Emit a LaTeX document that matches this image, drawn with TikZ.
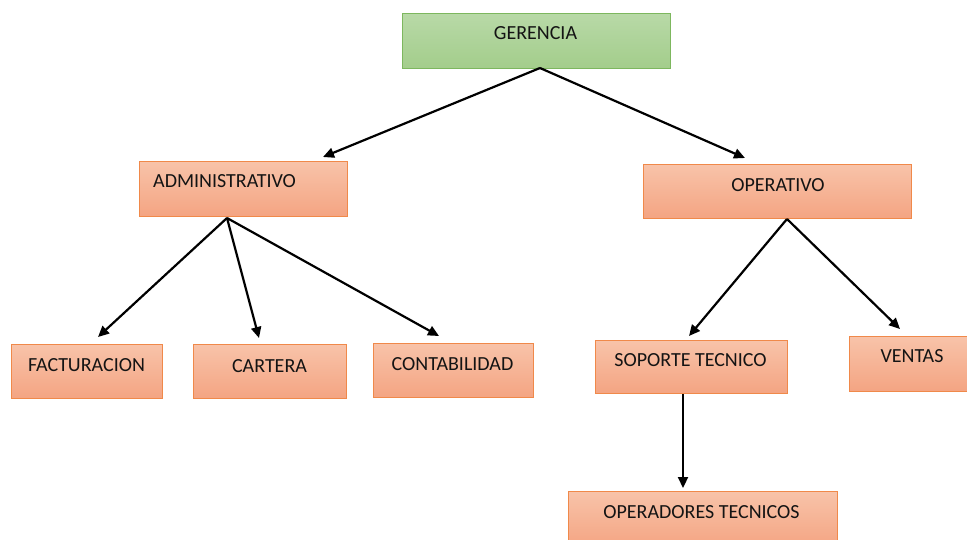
\documentclass[tikz,border=0pt]{standalone}
\usepackage{fontspec}
\setmainfont{Carlito}
\usetikzlibrary{arrows.meta}
\definecolor{oborder}{HTML}{F0894A}
\definecolor{otop}{HTML}{F8C3A9}
\definecolor{obot}{HTML}{F4A482}
\definecolor{gborder}{HTML}{7DB75E}
\definecolor{gtop}{HTML}{B8D9A7}
\definecolor{gbot}{HTML}{A3CD8B}
\definecolor{txt}{HTML}{141414}
\begin{document}
\begin{tikzpicture}[x=1pt,y=-1pt,
  obox/.style={rectangle, draw=oborder, line width=1.3pt, top color=otop, bottom color=obot, anchor=north west, inner sep=0pt},
  gbox/.style={rectangle, draw=gborder, line width=1.3pt, top color=gtop, bottom color=gbot, anchor=north west, inner sep=0pt},
  lbl/.style={font=\fontsize{20}{24}\selectfont, text=txt, inner sep=0pt, anchor=base},
  conn/.style={draw=black, line width=2.2pt, -{Triangle[length=11pt,width=10pt]}}]
\useasboundingbox (0,0) rectangle (967,539);
% boxes
\node[gbox, minimum width=268pt, minimum height=55pt] (ger) at (402,13) {};
\node[obox, minimum width=208pt, minimum height=55pt] (adm) at (139,161) {};
\node[obox, minimum width=268pt, minimum height=54pt] (ope) at (643,164) {};
\node[obox, minimum width=151pt, minimum height=54pt] (fac) at (11,344) {};
\node[obox, minimum width=153pt, minimum height=54pt] (car) at (193,344) {};
\node[obox, minimum width=160pt, minimum height=54pt] (con) at (373,343) {};
\node[obox, minimum width=192pt, minimum height=53pt] (sop) at (595,340) {};
\node[obox, minimum width=126pt, minimum height=55pt] (ven) at (849,336) {};
\node[obox, minimum width=269pt, minimum height=56pt] (opr) at (568,491) {};
% labels
\node[lbl] (tger) at (535.5,39.5) {GERENCIA};
\node[lbl, anchor=base west] (tadm) at (153,187.7) {ADMINISTRATIVO};
\node[lbl] (tope) at (778,191) {OPERATIVO};
\node[lbl] (tfac) at (86.5,371) {FACTURACION};
\node[lbl] (tcar) at (269.5,372) {CARTERA};
\node[lbl] (tcon) at (452.5,370) {CONTABILIDAD};
\node[lbl] (tsop) at (690.5,366) {SOPORTE TECNICO};
\node[lbl] (tven) at (912,362) {VENTAS};
\node[lbl] (topr) at (701.5,518) {OPERADORES TECNICOS};
% connector points
\coordinate (g0) at (540,68);
\coordinate (a1) at (323,157);
\coordinate (o1) at (745,158);
\coordinate (ad0) at (227,218);
\coordinate (f1) at (98,337);
\coordinate (c1) at (259,338);
\coordinate (k1) at (439,336);
\coordinate (op0) at (787,219);
\coordinate (s1) at (689,336);
\coordinate (v1) at (900,329);
\coordinate (sp0) at (683,394);
\coordinate (r1) at (683,488);
% connectors
\draw[conn] (g0) -- (a1);
\draw[conn] (g0) -- (o1);
\draw[conn] (ad0) -- (f1);
\draw[conn] (ad0) -- (c1);
\draw[conn] (ad0) -- (k1);
\draw[conn] (op0) -- (s1);
\draw[conn] (op0) -- (v1);
\draw[conn] (sp0) -- (r1);
\end{tikzpicture}
\end{document}
